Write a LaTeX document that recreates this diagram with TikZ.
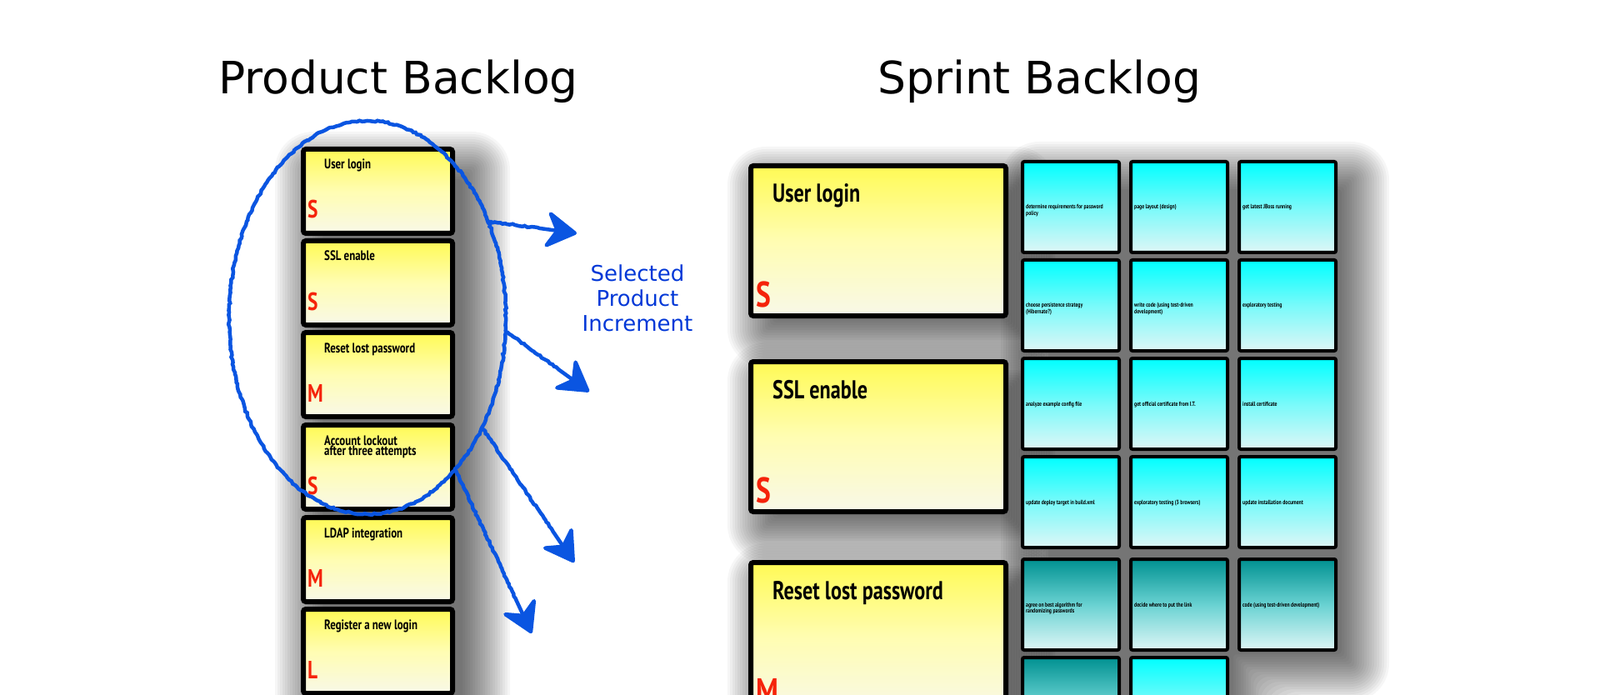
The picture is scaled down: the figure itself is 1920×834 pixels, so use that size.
\documentclass[tikz,border=0pt]{standalone}
\usepackage{fontspec}
\setmainfont{DejaVu Sans}
\newfontfamily\hand[FakeStretch=0.78]{PT Sans}
\usetikzlibrary{shapes.geometric,arrows.meta,decorations.pathmorphing,calc}
\definecolor{ytop}{RGB}{255,250,85}
\definecolor{ymid}{RGB}{255,253,178}
\definecolor{ybot}{RGB}{248,248,232}
\definecolor{ctop}{RGB}{0,255,255}
\definecolor{cmid}{RGB}{120,250,250}
\definecolor{cbot}{RGB}{222,246,246}
\definecolor{ttop}{RGB}{0,145,145}
\definecolor{tmid}{RGB}{105,210,210}
\definecolor{pen}{RGB}{10,85,225}
\definecolor{lbl}{RGB}{0,55,215}
\definecolor{markred}{RGB}{245,35,10}
\newcommand\gshad[4]{%
  \foreach \s in {-15,-12,...,42} {%
    \fill[black, opacity=0.036, rounded corners={max(\s,0)+4}]
      ({#1-\s},{#2-\s}) rectangle ({#3+\s},{#4+\s});}}
% L-shaped shadow: x1 y1 x3 y2 x2 y4
\newcommand\lshad[6]{%
  \foreach \s in {-15,-12,...,42} {%
    \fill[black, opacity=0.036, rounded corners={max(\s,0)+4}]
      ({#1-\s},{#2-\s}) -- ({#3+\s},{#2-\s}) -- ({#3+\s},{#4+\s}) -- ({#5+\s},{#4+\s})
      -- ({#5+\s},{#6+\s}) -- ({#1-\s},{#6+\s}) -- cycle;}}
\newcommand\two[2]{\vtop{\hbox{#1}\hbox{#2}}}
\newcommand\leftcard[4]{%
  \node[lcard] (#1) at (361,{#2+3}) {};
  \node[ltext] (#1t) at ($(#1.north west)+(28,27)$) {#3};
  \node[lmark] (#1m) at ($(#1.north west)+(8,86)$) {#4};}
\newcommand\bigcard[4]{%
  \node[bcard] (#1) at (898,{#2+3}) {};
  \node[btext] (#1t) at ($(#1.north west)+(29,47)$) {#3};
  \node[bmark] (#1m) at ($(#1.north west)+(9,172)$) {#4};}
\newcommand\task[5]{%
  \node[tcard,#4] (#1) at ({#2+2},{#3+2}) {};
  \node[ttext] (#1t) at ($(#1.north west)+(6,59)$) {#5};}
\begin{document}
\begin{tikzpicture}[x=1pt,y=-1pt,
  lcard/.style={draw=black, line width=6pt, rounded corners=3pt, anchor=north west,
    inner sep=0pt, minimum width=179, minimum height=101,
    top color=ytop, bottom color=ybot, middle color=ymid},
  bcard/.style={lcard, minimum width=306, minimum height=180},
  tcard/.style={draw=black, line width=4pt, rounded corners=2pt, anchor=north west,
    inner sep=0pt, minimum width=116, minimum height=109,
    top color=ctop, bottom color=cbot, middle color=cmid},
  teal/.style={top color=ttop, bottom color=cbot, middle color=tmid},
  ltext/.style={anchor=base west, inner sep=0pt,
    font={\hand\bfseries\fontsize{16.5}{12.8}\selectfont}},
  btext/.style={anchor=base west, inner sep=0pt,
    font={\hand\bfseries\fontsize{31}{34}\selectfont}},
  lmark/.style={anchor=base west, inner sep=0pt, text=markred,
    font={\hand\bfseries\fontsize{30}{30}\selectfont}},
  bmark/.style={anchor=base west, inner sep=0pt, text=markred,
    font={\hand\bfseries\fontsize{43}{43}\selectfont}},
  ttext/.style={anchor=base west, inner sep=0pt,
    font={\hand\bfseries\fontsize{7.4}{7.2}\selectfont}},
  title/.style={anchor=base west, inner sep=0pt, font={\fontsize{53.5}{60}\selectfont}},
  penline/.style={draw=pen, line width=4.5pt, line cap=round,
    decoration={random steps, segment length=3pt, amplitude=0.8pt, post length=45pt}, decorate},
  penarrow/.style={penline, -{Stealth[length=42pt, width=50pt, inset=14pt, round]}}
]
\useasboundingbox (0,0) rectangle (1920,834);
\fill[white] (0,0) rectangle (1920,834);
\clip (0,0) rectangle (1920,834);
% shadows
\gshad{372}{200}{570}{900}
\foreach \t in {193,428,669} {\gshad{915}{\t+25}{1224}{\t+206}}
\lshad{1243}{212}{1625}{800}{1495}{920}
% titles
\node[title] (pbt) at (262,113) {Product Backlog};
\node[title] (sbt) at (1053,113) {Sprint Backlog};
% product backlog
\leftcard{c1}{173}{User login}{S}
\leftcard{c2}{283}{SSL enable}{S}
\leftcard{c3}{393}{Reset lost password}{M}
\leftcard{c4}{504}{\two{Account lockout}{after three attempts}}{S}
\leftcard{c5}{615}{LDAP integration}{M}
\leftcard{c6}{725}{Register a new login}{L}
% sprint backlog stories
\bigcard{b1}{193}{User login}{S}
\bigcard{b2}{428}{SSL enable}{S}
\bigcard{b3}{669}{Reset lost password}{M}
% tasks
\task{t11}{1223}{190}{}{\two{determine requirements for password}{policy}}
\task{t12}{1353}{190}{}{page layout (design)}
\task{t13}{1483}{190}{}{get latest JBoss running}
\task{t21}{1223}{308}{}{\two{choose persistence strategy}{(Hibernate?)}}
\task{t22}{1353}{308}{}{\two{write code (using test-driven}{development)}}
\task{t23}{1483}{308}{}{exploratory testing}
\task{t31}{1223}{426}{}{analyze example config file}
\task{t32}{1353}{426}{}{get official certificate from I.T.}
\task{t33}{1483}{426}{}{install certificate}
\task{t41}{1223}{544}{}{update deploy target in build.xml}
\task{t42}{1353}{544}{}{exploratory testing (3 browsers)}
\task{t43}{1483}{544}{}{update installation document}
\task{t51}{1223}{667}{teal}{\two{agree on best algorithm for}{randomizing passwords}}
\task{t52}{1353}{667}{teal}{decide where to put the link}
\task{t53}{1483}{667}{teal}{code (using test-driven development)}
\node[tcard,teal] (t61) at (1225,787) {};
\node[tcard] (t62) at (1355,787) {};
% selection ellipse and arrows
\node[ellipse, draw=pen, line width=4.5pt, minimum width=332, minimum height=472,
  decoration={random steps, segment length=3pt, amplitude=0.9pt}, decorate] (sel) at (441,381) {};
\coordinate (a1) at (692,280);
\coordinate (a2) at (707,470);
\coordinate (a3) at (689,675);
\coordinate (a4) at (638,760);
\draw[penarrow] (sel.38) -- (a1);
\draw[penarrow] (sel.-6.5) -- (a2);
\draw[penarrow] (sel.-44.6) -- (a3);
\draw[penarrow] (sel.-60.8) -- (a4);
\node[anchor=base, inner sep=0pt, align=center, text=lbl,
  font={\fontsize{26}{30}\selectfont}] (lab) at (765,397) {Selected\\Product\\Increment};
\end{tikzpicture}
\end{document}
